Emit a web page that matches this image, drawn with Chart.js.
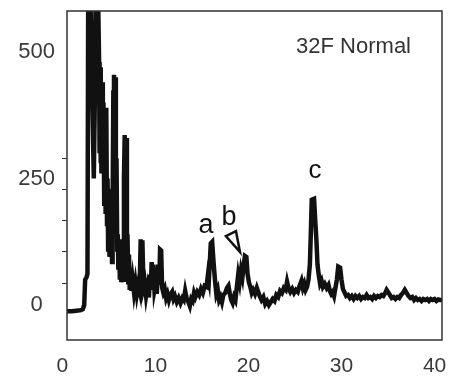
<!DOCTYPE html>
<html>
<head>
<meta charset="utf-8">
<script src="https://cdn.jsdelivr.net/npm/chart.js@4/dist/chart.umd.min.js"></script>
<style>
  html, body { margin: 0; padding: 0; background: #fff; }
  #wrap { width: 465px; height: 381px; }
</style>
</head>
<body>
<div id="wrap"><canvas id="c"></canvas></div>
<script>
// Diffraction angle (x) and intensity (y)
const angles = [
  0.5, 1.0, 1.5, 2.0, 2.2, 2.35, 2.45, 2.6, 2.7, 2.78,
  2.9, 3.05, 3.2, 3.38, 3.5, 3.6, 3.75, 3.85, 3.95, 4.0,
  4.05, 4.1, 4.15, 4.2, 4.28, 4.35, 4.42, 4.5, 4.58, 4.65,
  4.72, 4.8, 4.86, 4.92, 5.0, 5.06, 5.12, 5.2, 5.28, 5.34,
  5.4, 5.48, 5.55, 5.62, 5.68, 5.75, 5.82, 5.9, 5.96, 6.02,
  6.1, 6.18, 6.26, 6.34, 6.42, 6.52, 6.62, 6.7, 6.78, 6.86,
  6.94, 7.0, 7.08, 7.16, 7.24, 7.32, 7.42, 7.55, 7.7, 7.85,
  8.0, 8.15, 8.3, 8.42, 8.5, 8.6, 8.72, 8.85, 9.0, 9.15,
  9.3, 9.42, 9.5, 9.6, 9.7, 9.78, 9.9, 10.05, 10.15, 10.3,
  10.42, 10.5, 10.62, 10.72, 10.85, 11.0, 11.15, 11.3, 11.45, 11.6,
  11.8, 11.95, 12.1, 12.3, 12.5, 12.7, 12.9, 13.05, 13.2, 13.35,
  13.5, 13.7, 13.85, 14.0, 14.15, 14.3, 14.5, 14.7, 14.9, 15.1,
  15.3, 15.5, 15.65, 15.75, 15.85, 15.95, 16.1, 16.25, 16.4, 16.55,
  16.7, 16.85, 17.0, 17.15, 17.3, 17.5, 17.7, 17.85, 18.0, 18.15,
  18.3, 18.45, 18.6, 18.75, 18.9, 19.05, 19.2, 19.35, 19.5, 19.62,
  19.78, 19.9, 20.05, 20.2, 20.35, 20.5, 20.7, 20.9, 21.05, 21.2,
  21.4, 21.6, 21.8, 22.0, 22.2, 22.4, 22.6, 22.8, 23.0, 23.2,
  23.4, 23.6, 23.8, 24.0, 24.15, 24.3, 24.5, 24.7, 24.9, 25.1,
  25.3, 25.5, 25.7, 25.85, 26.0, 26.15, 26.3, 26.45, 26.6, 26.7,
  26.8, 27.05, 27.2, 27.3, 27.42, 27.55, 27.7, 27.85, 28.0, 28.2,
  28.4, 28.6, 28.75, 28.9, 29.05, 29.2, 29.35, 29.5, 29.65, 29.85,
  30.0, 30.15, 30.3, 30.5, 30.7, 30.9, 31.1, 31.3, 31.5, 31.7,
  31.9, 32.1, 32.3, 32.5, 32.7, 32.9, 33.1, 33.3, 33.5, 33.7,
  33.9, 34.1, 34.3, 34.5, 34.7, 34.85, 35.0, 35.2, 35.4, 35.6,
  35.8, 36.0, 36.2, 36.4, 36.6, 36.8, 37.0, 37.2, 37.4, 37.6,
  37.8, 38.0, 38.2, 38.4, 38.6, 38.8, 39.0, 39.2, 39.4, 39.6,
  39.8, 40.0, 40.2, 40.4, 40.6, 40.8
];
const intensity = [
  -12, -12, -11, -10, -8, 0, 50, 55, 62, 620,
  640, 600, 420, 250, 420, 620, 640, 600, 480, 300,
  470, 280, 460, 260, 440, 300, 400, 200, 380, 180,
  390, 160, 250, 110, 230, 100, 200, 95, 170, 85,
  190, 420, 455, 170, 450, 200, 290, 110, 140, 70,
  130, 50, 100, 45, 80, 50, 250, 336, 110, 330,
  90, 140, 45, 100, 30, 60, 28, 50, 25, 45,
  22, 40, 28, 130, 60, 128, 35, 45, 18, 35,
  15, 60, 30, 85, 40, 80, 30, 45, 22, 80,
  40, 110, 108, 35, 25, 32, 14, 22, 10, 20,
  26, 12, 18, 6, 14, 4, 14, 10, 28, 14,
  8, -2, 12, 8, 24, 16, 26, 20, 32, 24,
  38, 36, 60, 50, 85, 122, 125, 85, 50, 22,
  30, 10, 16, 6, 20, 24, 34, 38, 22, 10,
  4, 16, 10, 35, 60, 45, 68, 55, 80, 97,
  95, 62, 45, 36, 24, 30, 22, 34, 26, 18,
  10, 16, 2, 8, 0, 6, 12, 8, 20, 16,
  28, 24, 34, 30, 46, 34, 26, 32, 24, 30,
  26, 38, 48, 34, 42, 30, 36, 50, 80, 140,
  208, 210, 160, 130, 80, 60, 42, 48, 36, 42,
  34, 40, 28, 22, 26, 18, 34, 50, 76, 74,
  50, 32, 26, 18, 20, 14, 18, 12, 18, 14,
  18, 12, 16, 14, 20, 14, 16, 12, 18, 14,
  18, 16, 20, 18, 24, 30, 26, 20, 14, 16,
  12, 16, 14, 20, 24, 30, 24, 18, 14, 16,
  10, 14, 10, 12, 8, 12, 10, 12, 8, 12,
  10, 12, 8, 11, 10, 10
];
const xTickValues = [0, 10, 20, 30, 40];
const yLabelValues = [0, 250, 500];
const yMinorTicks = [43, 105, 168, 229, 290];

// Annotations (text and position in data units)
const annotations = [
  { text: 'a', x: 15.43, y: 142, size: 27 },
  { text: 'b', x: 17.9, y: 158, size: 27 },
  { text: 'c', x: 27.14, y: 251, size: 26 }
];
const arrowHead = [ [17.58, 136], [18.66, 146], [19.09, 105] ];
const sampleLabel = '32F Normal';

const FONT = "'Liberation Sans', Arial, sans-serif";

const framePlugin = {
  id: 'frameAndNotes',
  afterDatasetsDraw(chart) {
    const { ctx, chartArea: a, scales: { x, y } } = chart;
    ctx.save();
    ctx.strokeStyle = '#333';
    ctx.lineWidth = 1.5;
    ctx.strokeRect(a.left, a.top, a.right - a.left, a.bottom - a.top);

    ctx.fillStyle = '#111';
    ctx.textAlign = 'center';
    ctx.textBaseline = 'alphabetic';
    annotations.forEach(n => {
      ctx.font = n.size + 'px ' + FONT;
      ctx.fillText(n.text, x.getPixelForValue(n.x), y.getPixelForValue(n.y));
    });

    ctx.beginPath();
    arrowHead.forEach((p, i) => {
      const px = x.getPixelForValue(p[0]), py = y.getPixelForValue(p[1]);
      if (i === 0) ctx.moveTo(px, py); else ctx.lineTo(px, py);
    });
    ctx.closePath();
    ctx.lineWidth = 2.5;
    ctx.strokeStyle = '#111';
    ctx.stroke();

    ctx.font = '22px ' + FONT;
    ctx.fillStyle = '#333';
    ctx.textAlign = 'right';
    ctx.fillText(sampleLabel, a.right - 31, a.top + 42);
    ctx.restore();
  }
};

new Chart(document.getElementById('c'), {
  type: 'line',
  data: {
    datasets: [{
      data: angles.map((a, i) => ({ x: a, y: intensity[i] })),
      borderColor: '#111',
      borderWidth: 4.5,
      pointRadius: 0,
      tension: 0,
      fill: false
    }]
  },
  options: {
    responsive: true,
    maintainAspectRatio: false,
    animation: false,
    layout: { padding: { left: 0, right: 23, top: 11, bottom: 0 } },
    plugins: { legend: { display: false }, tooltip: { enabled: false } },
    scales: {
      x: {
        type: 'linear',
        min: 0.5,
        max: 40.8,
        afterBuildTicks: s => { s.ticks = xTickValues.map(v => ({ value: v })); },
        afterFit: s => { s.height = 41; s.paddingLeft = 0; s.paddingRight = 0; },
        grid: { display: false, drawTicks: false },
        border: { display: false },
        ticks: {
          padding: 14,
          color: '#3a3a3a',
          font: { family: FONT, size: 21 },
          maxRotation: 0,
          autoSkip: false,
          callback: v => String(v)
        }
      },
      y: {
        min: -69,
        max: 581,
        afterBuildTicks: s => {
          s.ticks = yLabelValues.concat(yMinorTicks).sort((p, q) => p - q).map(v => ({ value: v }));
        },
        afterFit: s => { s.width = 67; s.paddingTop = 0; s.paddingBottom = 0; },
        grid: {
          drawOnChartArea: false,
          drawTicks: true,
          tickLength: 5,
          color: c => (c.tick && yLabelValues.includes(c.tick.value)) ? 'rgba(0,0,0,0)' : '#333'
        },
        border: { display: false },
        ticks: {
          padding: 7,
          crossAlign: 'center',
          color: '#3a3a3a',
          font: { family: FONT, size: 22 },
          autoSkip: false,
          callback: v => yLabelValues.includes(v) ? String(v) : ''
        }
      }
    }
  },
  plugins: [framePlugin]
});
</script>
</body>
</html>
